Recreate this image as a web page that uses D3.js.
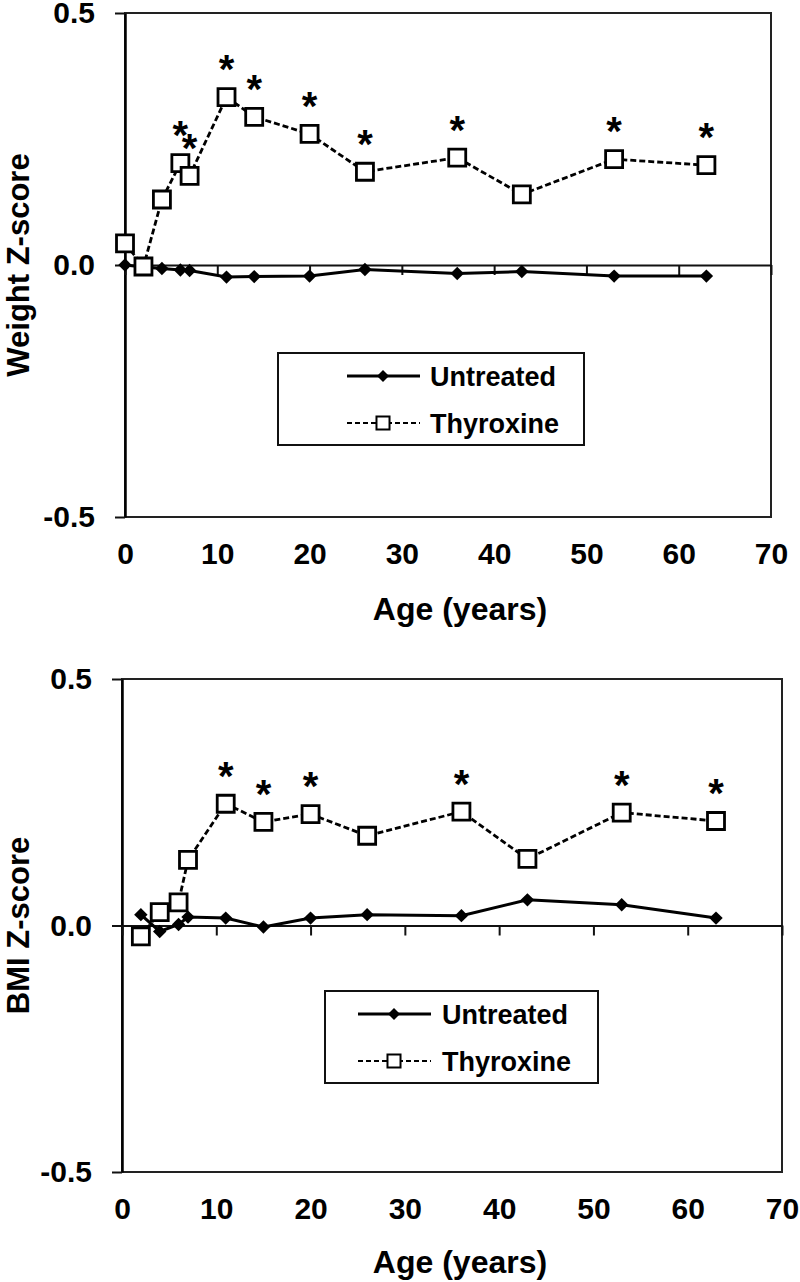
<!DOCTYPE html>
<html>
<head>
<meta charset="utf-8">
<script src="https://cdn.jsdelivr.net/npm/d3@7"></script>
<style>
  html, body { margin: 0; padding: 0; background: #fff; }
  svg { display: block; }
  text { font-family: "Liberation Sans", Arial, sans-serif; font-weight: bold; fill: #000; }
</style>
</head>
<body>
<svg id="chart" width="800" height="1282"></svg>
<script>
// ---------- DATA ----------
const xTicks = [0, 10, 20, 30, 40, 50, 60, 70];
const yTicks = [-0.5, 0.0, 0.5];
const seriesNames = ["Untreated", "Thyroxine"];

const weightAges        = [0, 2, 4, 6, 7, 11, 14, 20, 26, 36, 43, 53, 63];
const weightUntreated   = [0.000, -0.004, -0.007, -0.010, -0.011, -0.024, -0.023, -0.022, -0.009, -0.017, -0.013, -0.022, -0.022];
const weightThyroxine   = [0.043, -0.003, 0.130, 0.202, 0.177, 0.333, 0.294, 0.260, 0.185, 0.213, 0.140, 0.210, 0.198];
const weightSignificant = [false, false, false, true, true, true, true, true, true, true, false, true, true];

const bmiAges        = [2, 4, 6, 7, 11, 15, 20, 26, 36, 43, 53, 63];
const bmiUntreated   = [0.022, -0.012, 0.002, 0.017, 0.015, -0.003, 0.015, 0.022, 0.020, 0.052, 0.042, 0.015];
const bmiThyroxine   = [-0.022, 0.027, 0.047, 0.133, 0.247, 0.210, 0.226, 0.182, 0.231, 0.135, 0.229, 0.212];
const bmiSignificant = [false, false, false, false, true, true, true, false, true, false, true, true];

// ---------- LAYOUT ----------
const panels = [
  { ages: weightAges, untreated: weightUntreated, thyroxine: weightThyroxine, sig: weightSignificant,
    yTitle: "Weight Z-score", left: 125, right: 771, top: 13, bottom: 517, xTitleY: 620,
    legend: { x: 278, y: 353, w: 306, h: 92, lineX: 347, textX: 430 } },
  { ages: bmiAges, untreated: bmiUntreated, thyroxine: bmiThyroxine, sig: bmiSignificant,
    yTitle: "BMI Z-score", left: 122, right: 782, top: 679, bottom: 1172, xTitleY: 1273,
    legend: { x: 325, y: 991, w: 273, h: 92, lineX: 358, textX: 442 } }
];

const svg = d3.select("#chart");
const fmt = d => d3.format(".1f")(d).replace("\u2212", "-");
const diamond = d3.symbol().type(d3.symbolSquare).size(90);
const square = d3.symbol().type(d3.symbolSquare).size(289);
const squareLegend = d3.symbol().type(d3.symbolSquare).size(170);
const diamondLegend = d3.symbol().type(d3.symbolSquare).size(72);

function styleAxis(sel, fontSize) {
  sel.selectAll("text").attr("font-size", fontSize).attr("font-weight", "bold")
     .attr("font-family", '"Liberation Sans", Arial, sans-serif').attr("fill", "#000");
  sel.selectAll("line").attr("stroke", "#111").attr("stroke-width", 2);
  sel.selectAll("path.domain").attr("stroke", "#111").attr("stroke-width", 2);
}

panels.forEach(p => {
  const g = svg.append("g");
  const x = d3.scaleLinear().domain([0, 70]).range([p.left, p.right]);
  const y = d3.scaleLinear().domain([-0.5, 0.5]).range([p.bottom, p.top]);

  // frame
  g.append("rect")
    .attr("x", p.left).attr("y", p.top)
    .attr("width", p.right - p.left).attr("height", p.bottom - p.top)
    .attr("fill", "none").attr("stroke", "#222").attr("stroke-width", 2);

  // y axis
  const ya = g.append("g").attr("transform", `translate(${p.left},0)`)
    .call(d3.axisLeft(y).tickValues(yTicks).tickSize(10).tickSizeOuter(0).tickPadding(20).tickFormat(fmt));
  styleAxis(ya, 30);
  ya.select("path.domain").attr("stroke", "#000").attr("stroke-width", 2.5);

  // zero line with ticks
  const za = g.append("g").attr("transform", `translate(0,${y(0)})`)
    .call(d3.axisBottom(x).tickValues(xTicks).tickSize(10).tickSizeOuter(0).tickFormat(""));
  styleAxis(za, 30);

  // x tick labels at bottom
  const xa = g.append("g").attr("transform", `translate(0,${p.bottom})`)
    .call(d3.axisBottom(x).tickValues(xTicks).tickSize(0).tickSizeOuter(0).tickPadding(26));
  styleAxis(xa, 30);
  xa.select("path.domain").remove();

  // titles
  g.append("text").attr("x", 460).attr("y", p.xTitleY)
    .attr("text-anchor", "middle").attr("font-size", 32).text("Age (years)");
  g.append("text")
    .attr("transform", `translate(29,${(p.top + p.bottom) / 2}) rotate(-90)`)
    .attr("text-anchor", "middle").attr("font-size", 31).text(p.yTitle);

  const dataU = p.ages.map((a, i) => ({ age: a, v: p.untreated[i] }));
  const dataT = p.ages.map((a, i) => ({ age: a, v: p.thyroxine[i], s: p.sig[i] }));
  const line = d3.line().x(d => x(d.age)).y(d => y(d.v));

  // untreated
  g.append("path").datum(dataU).attr("d", line)
    .attr("fill", "none").attr("stroke", "#000").attr("stroke-width", 3);
  g.selectAll(".dU").data(dataU).join("path")
    .attr("transform", d => `translate(${x(d.age)},${y(d.v)}) rotate(45)`)
    .attr("d", diamond).attr("fill", "#000");

  // thyroxine
  g.append("path").datum(dataT).attr("d", line)
    .attr("fill", "none").attr("stroke", "#000").attr("stroke-width", 2.8)
    .attr("stroke-dasharray", "6,3");
  g.selectAll(".sT").data(dataT).join("path")
    .attr("transform", d => `translate(${x(d.age)},${y(d.v)})`)
    .attr("d", square).attr("fill", "#fff").attr("stroke", "#000").attr("stroke-width", 2.8);

  // significance stars
  g.selectAll(".star").data(dataT.filter(d => d.s)).join("text")
    .attr("x", d => x(d.age)).attr("y", d => y(d.v) - 36 + 0.55 * 40)
    .attr("text-anchor", "middle").attr("font-size", 40).text("*");

  // legend
  const L = p.legend;
  const lg = g.append("g");
  lg.append("rect").attr("x", L.x).attr("y", L.y).attr("width", L.w).attr("height", L.h)
    .attr("fill", "#fff").attr("stroke", "#111").attr("stroke-width", 2);
  const r1 = L.y + 23, r2 = L.y + 70, mid = L.lineX + 36;
  lg.append("line").attr("x1", L.lineX).attr("x2", L.lineX + 73).attr("y1", r1).attr("y2", r1)
    .attr("stroke", "#000").attr("stroke-width", 3);
  lg.append("path").attr("transform", `translate(${mid},${r1}) rotate(45)`).attr("d", diamondLegend).attr("fill", "#000");
  lg.append("line").attr("x1", L.lineX).attr("x2", L.lineX + 73).attr("y1", r2).attr("y2", r2)
    .attr("stroke", "#000").attr("stroke-width", 2.2).attr("stroke-dasharray", "5,3");
  lg.append("path").attr("transform", `translate(${mid},${r2})`).attr("d", squareLegend)
    .attr("fill", "#fff").attr("stroke", "#000").attr("stroke-width", 2);
  lg.append("text").attr("x", L.textX).attr("y", r1 + 10).attr("font-size", 27).text(seriesNames[0]);
  lg.append("text").attr("x", L.textX).attr("y", r2 + 10).attr("font-size", 27).text(seriesNames[1]);
});
</script>
</body>
</html>
